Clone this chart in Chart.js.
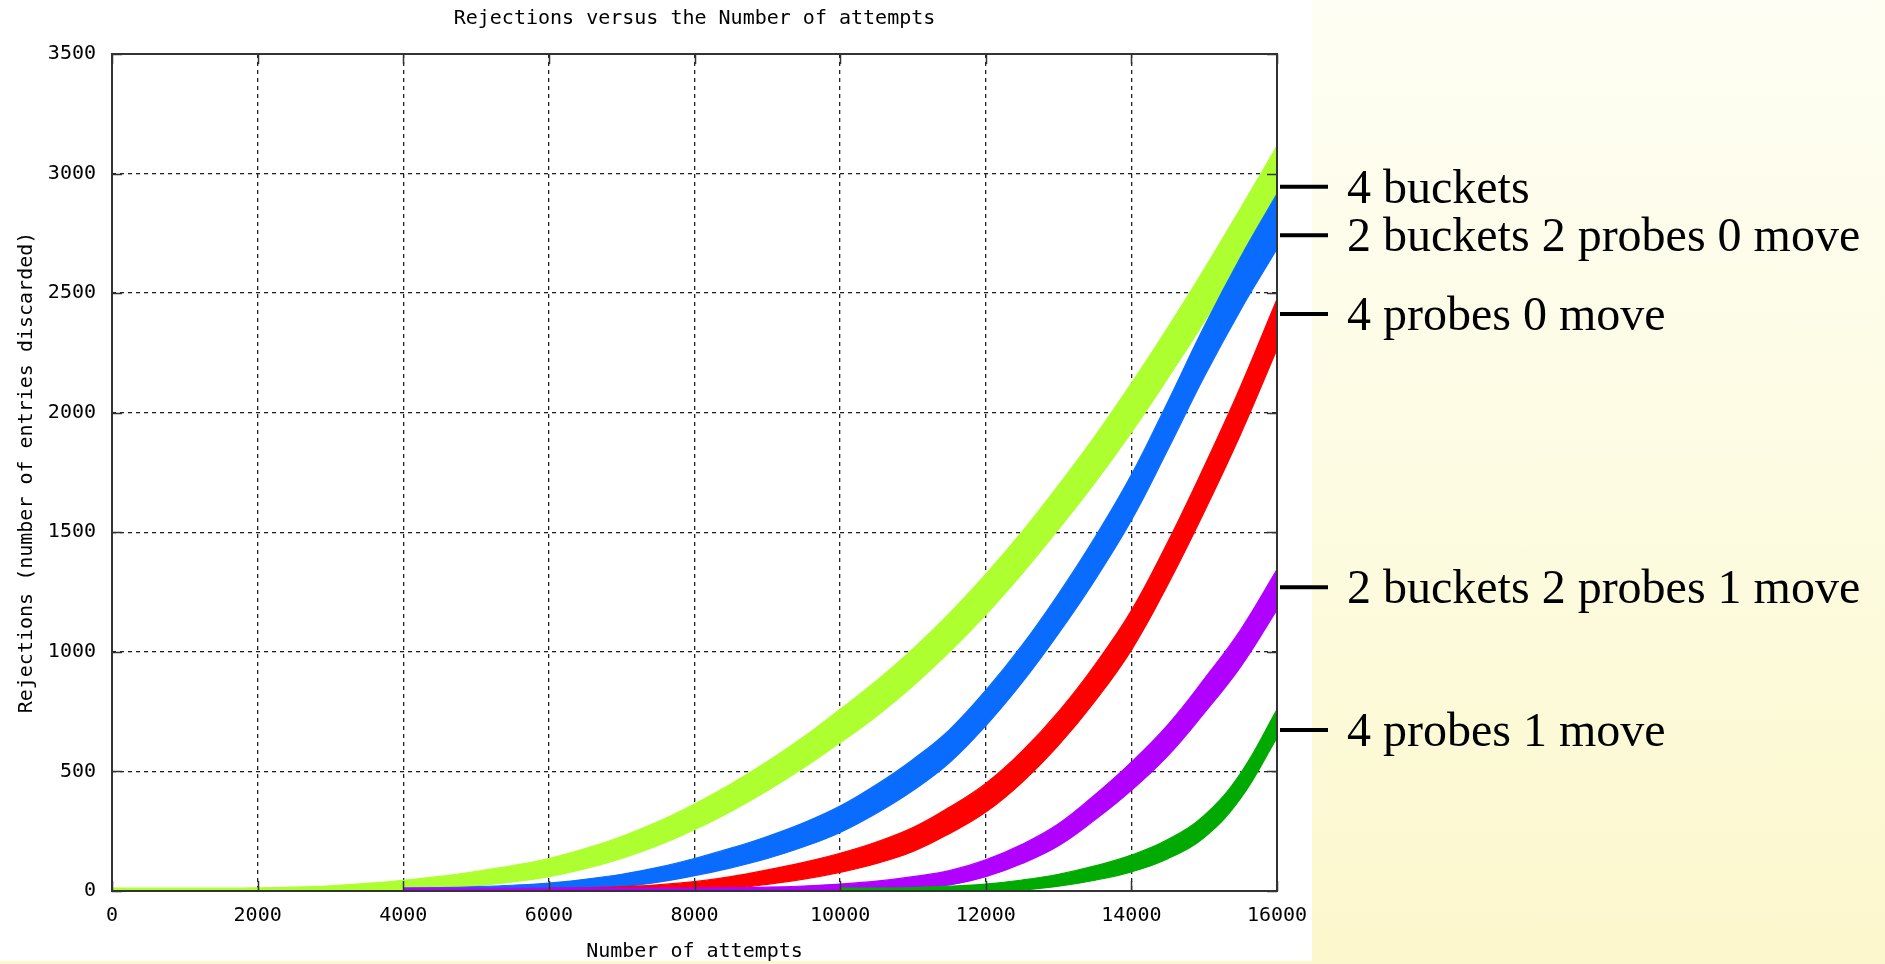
<!DOCTYPE html>
<html>
<head>
<meta charset="utf-8">
<script src="https://cdn.jsdelivr.net/npm/chart.js@4"></script>
<style>
  html, body { margin: 0; padding: 0; overflow: hidden; }
  body { width: 1885px; height: 964px; background: linear-gradient(to bottom, #fefef4 0%, #fdfbe0 55%, #fcf7cc 100%); }
  canvas { display: block; }
</style>
</head>
<body>
<canvas id="c" width="1885" height="964"></canvas>
<script>
// ---- data ----
const attempts = [0,500,1000,1500,2000,2500,3000,3500,4000,4500,5000,5500,6000,6500,7000,7500,8000,
  8500,9000,9500,10000,10500,11000,11500,12000,12500,13000,13500,14000,14500,15000,15500,16000];

const seriesNames = ['4 buckets','2 buckets 2 probes 0 move','4 probes 0 move','2 buckets 2 probes 1 move','4 probes 1 move'];

// centre of each noisy band
const fourBuckets = [0,0,0,0,1,3,7,14,24,36,52,72,98,135,182,240,310,390,480,580,690,805,935,1080,1240,1415,1605,1805,2020,2250,2490,2740,2995];
const twoBucketsTwoProbes0 = [null,null,null,null,null,null,null,null,0,2,4,8,15,27,44,68,100,138,182,235,300,385,485,605,765,950,1160,1390,1645,1945,2255,2540,2800];
const fourProbes0 = [null,null,null,null,null,null,null,null,null,null,null,null,0,1,4,9,18,35,58,85,118,160,215,295,390,520,680,870,1090,1370,1680,2010,2370];
const twoBucketsTwoProbes1 = [null,null,null,null,null,null,null,null,0,0,0,0,0,0,0,0,0,2,4,7,12,20,35,55,95,155,235,350,480,630,815,1015,1260];
const fourProbes1 = [null,null,null,null,null,null,null,null,null,null,null,null,null,null,null,null,null,null,null,null,0,0,2,6,12,25,45,75,115,175,270,440,700];

// vertical spread (total) of each noisy band, in rejections
const fourBucketsSpread = [24,24,24,24,24,26,30,36,42,50,60,68,76,84,92,100,108,115,122,130,140,148,155,162,170,176,184,195,205,212,220,230,240];
const twoBuckets0Spread = [24,24,24,24,24,24,24,24,24,24,28,32,36,44,52,62,72,82,92,100,110,120,130,138,148,156,166,178,190,200,210,220,230];
const fourProbes0Spread = [24,24,24,24,24,24,24,24,24,24,24,24,24,24,28,34,42,50,60,70,80,90,100,110,120,130,140,152,165,178,190,200,210];
const twoBuckets1Spread = [24,24,24,24,24,24,24,24,24,24,24,24,24,24,24,24,24,24,24,28,34,42,50,60,70,80,92,105,118,130,142,155,168];
const fourProbes1Spread = [24,24,24,24,24,24,24,24,24,24,24,24,24,24,24,24,24,24,24,24,24,24,24,28,34,42,50,60,70,80,92,105,118];

// where each curve's right-hand label points (rejections)
const labelAnchors = [2945, 2742, 2413, 1270, 673];

const xTicks = [0,2000,4000,6000,8000,10000,12000,14000,16000];
const yTicks = [0,500,1000,1500,2000,2500,3000,3500];

// ---- build ----
const colors = ['#adff2f', '#0a6cff', '#ff0000', '#b000ff', '#00aa00'];
const centres = [fourBuckets, twoBucketsTwoProbes0, fourProbes0, twoBucketsTwoProbes1, fourProbes1];
const spreads = [fourBucketsSpread, twoBuckets0Spread, fourProbes0Spread, twoBuckets1Spread, fourProbes1Spread];

const datasets = [];
centres.forEach((c, s) => {
  const upper = [], lower = [];
  attempts.forEach((x, i) => {
    if (c[i] === null) return;
    upper.push({x, y: c[i] + spreads[s][i] / 2});
    lower.push({x, y: Math.max(0, c[i] - spreads[s][i] / 2)});
  });
  const common = {
    borderColor: colors[s], backgroundColor: colors[s], borderWidth: 1.2,
    pointRadius: 0, tension: 0.4, order: 10 - s
  };
  datasets.push(Object.assign({label: seriesNames[s] + ' hi', data: upper, fill: false}, common));
  datasets.push(Object.assign({label: seriesNames[s], data: lower, fill: '-1'}, common));
});

const monoFont = {family: "'DejaVu Sans Mono', monospace", size: 20};

const decor = {
  id: 'decor',
  beforeDraw(chart) {
    const ctx = chart.ctx;
    ctx.save();
    ctx.fillStyle = '#ffffff';
    ctx.fillRect(0, 0, 1312, 961);
    ctx.restore();
  },
  afterDatasetsDraw(chart) {
    const {ctx, chartArea: a, scales: {x, y}} = chart;
    ctx.save();
    ctx.strokeStyle = '#333';
    ctx.lineWidth = 2;
    ctx.strokeRect(a.left, a.top, a.right - a.left, a.bottom - a.top);
    ctx.lineWidth = 1.5;
    ctx.beginPath();
    xTicks.forEach(v => {
      const px = Math.round(x.getPixelForValue(v)) + 0.5;
      ctx.moveTo(px, a.bottom); ctx.lineTo(px, a.bottom - 10);
      ctx.moveTo(px, a.top); ctx.lineTo(px, a.top + 10);
    });
    yTicks.forEach(v => {
      const py = Math.round(y.getPixelForValue(v)) + 0.5;
      ctx.moveTo(a.left, py); ctx.lineTo(a.left + 10, py);
      ctx.moveTo(a.right, py); ctx.lineTo(a.right - 10, py);
    });
    ctx.stroke();
    ctx.restore();
  },
  afterDraw(chart) {
    const {ctx, scales: {y}} = chart;
    ctx.save();
    ctx.fillStyle = '#000';
    ctx.strokeStyle = '#000';
    ctx.lineWidth = 4;
    ctx.font = "48px 'Liberation Serif', 'Times New Roman', serif";
    ctx.textBaseline = 'alphabetic';
    ctx.textAlign = 'left';
    seriesNames.forEach((name, i) => {
      const py = y.getPixelForValue(labelAnchors[i]);
      ctx.beginPath();
      ctx.moveTo(1280, py); ctx.lineTo(1328, py);
      ctx.stroke();
      ctx.fillText(name, 1347, py + 16);
    });
    ctx.restore();
  }
};

new Chart(document.getElementById('c'), {
  type: 'line',
  data: {datasets},
  options: {
    responsive: false,
    animation: false,
    events: [],
    layout: {padding: {left: 0, top: 0, right: 608, bottom: 0}},
    plugins: {
      legend: {display: false},
      tooltip: {enabled: false},
      title: {
        display: true, fullSize: false,
        text: 'Rejections versus the Number of attempts',
        color: '#000', font: Object.assign({weight: 'normal'}, monoFont),
        padding: {top: 7, bottom: 23}
      }
    },
    scales: {
      x: {
        type: 'linear', min: 0, max: 16000,
        afterBuildTicks: s => { s.ticks = xTicks.map(v => ({value: v})); },
        afterFit: s => { s.height = 73; },
        ticks: {color: '#000', font: monoFont, padding: 13, maxRotation: 0, autoSkip: false, callback: v => String(v)},
        grid: {color: '#222', lineWidth: 1.3, drawTicks: false},
        border: {display: false, dash: [4, 4]},
        title: {display: true, text: 'Number of attempts', color: '#000', font: monoFont, padding: {top: 0, bottom: 0}}
      },
      y: {
        type: 'linear', min: 0, max: 3500,
        afterBuildTicks: s => { s.ticks = yTicks.map(v => ({value: v})); },
        afterFit: s => { s.width = 112; },
        ticks: {color: '#000', font: monoFont, padding: 16, callback: v => String(v)},
        grid: {color: '#222', lineWidth: 1.3, drawTicks: false},
        border: {display: false, dash: [4, 4]},
        title: {display: true, text: 'Rejections (number of entries discarded)', color: '#000', font: monoFont, padding: {top: 15, bottom: 0}}
      }
    }
  },
  plugins: [decor]
});
</script>
</body>
</html>
